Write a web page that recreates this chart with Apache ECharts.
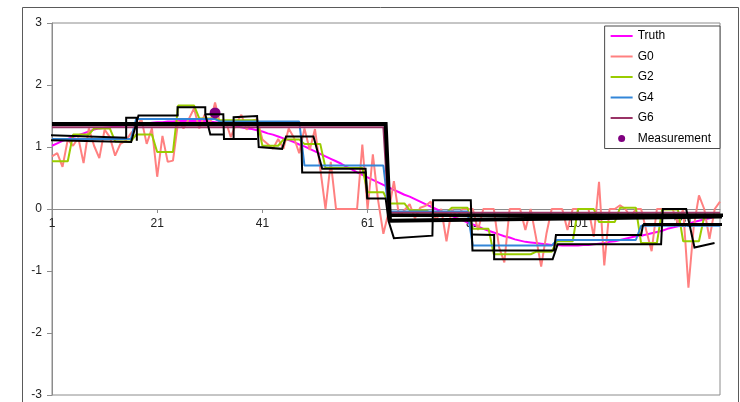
<!DOCTYPE html>
<html>
<head>
<meta charset="utf-8">
<script src="https://cdn.jsdelivr.net/npm/echarts@6/dist/echarts.min.js"></script>
<style>
  html, body { margin: 0; padding: 0; background: #ffffff; }
  #chart { width: 740px; height: 402px; }
</style>
</head>
<body>
<div id="chart"></div>
<script>
// Sample index labels (1..128)
const categories = [
  '1','2','3','4','5','6','7','8','9','10','11','12','13','14','15','16',
  '17','18','19','20','21','22','23','24','25','26','27','28','29','30','31','32',
  '33','34','35','36','37','38','39','40','41','42','43','44','45','46','47','48',
  '49','50','51','52','53','54','55','56','57','58','59','60','61','62','63','64',
  '65','66','67','68','69','70','71','72','73','74','75','76','77','78','79','80',
  '81','82','83','84','85','86','87','88','89','90','91','92','93','94','95','96',
  '97','98','99','100','101','102','103','104','105','106','107','108','109','110','111','112',
  '113','114','115','116','117','118','119','120','121','122','123','124','125','126','127','128'
];

const yTicks = [-3, -2, -1, 0, 1, 2, 3];

const truth = [
  1.02,1.06,1.10,1.13,1.16,1.19,1.22,1.25,1.28,1.30,1.31,1.32,1.33,1.34,1.35,1.36,
  1.37,1.37,1.38,1.39,1.40,1.40,1.41,1.41,1.42,1.42,1.42,1.42,1.42,1.42,1.41,1.40,
  1.39,1.37,1.35,1.33,1.32,1.30,1.29,1.27,1.25,1.22,1.20,1.17,1.14,1.11,1.08,1.04,
  1.01,0.97,0.93,0.89,0.85,0.81,0.77,0.73,0.68,0.64,0.59,0.55,0.51,0.47,0.43,0.39,
  0.35,0.31,0.27,0.23,0.20,0.16,0.12,0.08,0.04,0.00,-0.04,-0.08,-0.11,-0.15,-0.18,-0.22,
  -0.25,-0.28,-0.32,-0.35,-0.38,-0.41,-0.44,-0.46,-0.49,-0.51,-0.53,-0.54,-0.55,-0.56,-0.57,-0.58,
  -0.58,-0.59,-0.59,-0.59,-0.59,-0.58,-0.58,-0.57,-0.56,-0.55,-0.53,-0.52,-0.50,-0.48,-0.46,-0.44,
  -0.43,-0.41,-0.39,-0.37,-0.35,-0.32,-0.30,-0.28,-0.26,-0.24,-0.21,-0.19,-0.17,-0.15,-0.13,-0.11
];

const g0 = [
  0.85,0.90,0.68,1.12,1.02,1.15,0.74,1.30,1.02,0.82,1.28,1.16,0.86,1.05,1.10,1.22,
  1.32,1.45,1.05,1.30,0.52,1.18,0.76,0.78,1.42,1.30,1.45,1.62,1.30,1.52,1.36,1.72,
  1.36,1.42,1.16,1.38,1.52,1.28,1.42,1.45,1.12,1.05,0.97,1.13,0.97,1.30,1.15,0.90,
  1.30,0.95,1.29,0.65,0.00,0.76,0.00,0.00,0.00,0.00,0.00,1.04,0.00,0.88,0.14,-0.40,
  -0.05,0.45,-0.12,-0.02,0.08,-0.15,0.02,0.05,0.12,-0.19,0.00,-0.52,0.00,-0.13,0.00,0.00,
  0.00,-0.34,0.00,0.00,0.00,-0.62,-0.86,0.00,0.00,0.00,-0.34,0.00,-0.45,-0.93,-0.40,0.00,
  0.00,0.00,-0.34,0.00,0.00,0.00,0.00,-0.45,0.44,-0.91,0.00,0.00,0.06,0.00,-0.13,0.00,
  0.00,-0.35,-0.68,0.00,0.00,0.00,0.00,-0.24,0.00,-1.27,-0.29,0.22,0.00,-0.48,0.00,0.12
];

const g2 = [
  0.77,0.77,0.77,0.77,1.20,1.20,1.20,1.20,1.30,1.30,1.30,1.30,1.09,1.09,1.09,1.09,
  1.20,1.20,1.20,1.20,0.92,0.92,0.92,0.92,1.67,1.67,1.67,1.67,1.46,1.46,1.46,1.46,
  1.43,1.43,1.43,1.43,1.43,1.43,1.43,1.43,1.02,1.02,1.02,1.02,1.12,1.12,1.12,1.12,
  1.05,1.05,1.05,1.05,0.66,0.66,0.66,0.66,0.66,0.66,0.66,0.66,0.27,0.27,0.27,0.27,
  0.09,0.09,0.09,0.09,-0.02,-0.02,-0.02,-0.02,-0.06,-0.06,-0.06,-0.06,0.02,0.02,0.02,0.02,
  -0.32,-0.32,-0.32,-0.32,-0.73,-0.73,-0.73,-0.73,-0.73,-0.73,-0.73,-0.73,-0.69,-0.69,-0.69,-0.69,
  -0.52,-0.52,-0.52,-0.52,0.00,0.00,0.00,0.00,-0.21,-0.21,-0.21,-0.21,0.02,0.02,0.02,0.02,
  -0.55,-0.55,-0.55,-0.55,-0.01,-0.01,-0.01,-0.01,-0.52,-0.52,-0.52,-0.52,-0.12,-0.12,-0.12,-0.12
];

const g4 = [
  1.13,1.13,1.13,1.13,1.13,1.13,1.13,1.13,1.13,1.13,1.13,1.13,1.13,1.13,1.13,1.13,
  1.45,1.45,1.45,1.45,1.45,1.45,1.45,1.45,1.45,1.45,1.45,1.45,1.45,1.45,1.45,1.45,
  1.41,1.41,1.41,1.41,1.41,1.41,1.41,1.41,1.41,1.41,1.41,1.41,1.41,1.41,1.41,1.41,
  0.70,0.70,0.70,0.70,0.70,0.70,0.70,0.70,0.70,0.70,0.70,0.70,0.70,0.70,0.70,0.70,
  -0.04,-0.04,-0.04,-0.04,-0.04,-0.04,-0.04,-0.04,-0.04,-0.04,-0.04,-0.04,-0.04,-0.04,-0.04,-0.04,
  -0.59,-0.59,-0.59,-0.59,-0.59,-0.59,-0.59,-0.59,-0.59,-0.59,-0.59,-0.59,-0.59,-0.59,-0.59,-0.59,
  -0.50,-0.50,-0.50,-0.50,-0.50,-0.50,-0.50,-0.50,-0.50,-0.50,-0.50,-0.50,-0.50,-0.50,-0.50,-0.50,
  -0.27,-0.27,-0.27,-0.27,-0.27,-0.27,-0.27,-0.27,-0.27,-0.27,-0.27,-0.27,-0.27,-0.27,-0.27,-0.27
];

const g6 = [
  1.32,1.32,1.32,1.32,1.32,1.32,1.32,1.32,1.32,1.32,1.32,1.32,1.32,1.32,1.32,1.32,
  1.32,1.32,1.32,1.32,1.32,1.32,1.32,1.32,1.32,1.32,1.32,1.32,1.32,1.32,1.32,1.32,
  1.32,1.32,1.32,1.32,1.32,1.32,1.32,1.32,1.32,1.32,1.32,1.32,1.32,1.32,1.32,1.32,
  1.32,1.32,1.32,1.32,1.32,1.32,1.32,1.32,1.32,1.32,1.32,1.32,1.32,1.32,1.32,1.32,
  -0.06,-0.06,-0.06,-0.06,-0.06,-0.06,-0.06,-0.06,-0.06,-0.06,-0.06,-0.06,-0.06,-0.06,-0.06,-0.06,
  -0.06,-0.06,-0.06,-0.06,-0.06,-0.06,-0.06,-0.06,-0.06,-0.06,-0.06,-0.06,-0.06,-0.06,-0.06,-0.06,
  -0.06,-0.06,-0.06,-0.06,-0.06,-0.06,-0.06,-0.06,-0.06,-0.06,-0.06,-0.06,-0.06,-0.06,-0.06,-0.06,
  -0.06,-0.06,-0.06,-0.06,-0.06,-0.06,-0.06,-0.06,-0.06,-0.06,-0.06,-0.06,-0.06,-0.06,-0.06,-0.06
];

// Single measurement: [sample index, value]
const measurement = [[32, 1.55]];

// Hand-drawn interval outlines, as [sample position, value] vertices
const outlineLeftUpper = [[0.0, 1.19], [15.1, 1.15], [15.1, 1.47], [17.13, 1.47], [17.13, 1.10]];
const outlineLeftLower = [[0.0, 1.11], [16.05, 1.08], [17.44, 1.51], [25.06, 1.51]];
const outlinePeakBox = [[24.87, 1.51], [24.87, 1.64], [30.14, 1.64], [30.14, 1.53], [33.57, 1.53], [33.7, 1.13], [40.0, 1.13]];
const outlinePeakStep = [[30.14, 1.53], [31.1, 1.20], [33.6, 1.20]];
const outlineDescent = [[35.53, 1.13], [35.53, 1.48], [39.99, 1.50], [40.3, 1.00], [44.75, 0.97], [45.5, 1.17],
  [50.71, 1.17], [52.37, 0.65], [60.62, 0.65], [60.94, 0.17]];
const outlineLower = [[48.4, 1.17], [48.56, 0.59], [60.62, 0.59], [60.94, 0.17], [64.43, 0.17], [65.0, -0.20],
  [66.0, -0.47], [73.32, -0.43], [73.45, 0.14], [80.62, 0.14], [80.94, -0.67], [96.43, -0.67],
  [96.81, -0.42], [113.0, -0.42], [113.38, -0.25]];
const outlineRight = [[80.7, -0.41], [85.06, -0.42], [85.06, -0.81], [96.18, -0.81], [97.13, -0.57],
  [116.8, -0.57], [117.13, 0.00], [121.57, 0.00], [123.15, -0.62], [126.96, -0.55]];
const boundMain = [[1.0, 1.37], [64.43, 1.37], [65.25, -0.19], [128.6, -0.12]];
const boundSecond = [[65.25, -0.10], [128.6, -0.10]];
const boundTail = [[113.38, -0.25], [128.6, -0.25]];

const FONT = "'Liberation Sans', Arial, sans-serif";

// Plot box in the 740x402 canvas
const GRID = { left: 52, right: 20, top: 23, bottom: 7 };
const plotHeight = 402 - GRID.top - GRID.bottom;
const yMin = yTicks[0];
const yMax = yTicks[yTicks.length - 1];
// The category axis sits on the zero line
const zeroOffset = -plotHeight * (0 - yMin) / (yMax - yMin);

function seriesLine(name, data, color, width, z) {
  return {
    name: name, type: 'line', data: data, symbol: 'none', showSymbol: false,
    lineStyle: { color: color, width: width }, itemStyle: { color: color },
    z: z, animation: false
  };
}

function outline(data, width) {
  return {
    type: 'line', xAxisIndex: 1, data: data, symbol: 'none', showSymbol: false,
    clip: false, silent: true, z: 6, animation: false,
    lineStyle: { color: '#000000', width: width, join: 'miter' }
  };
}

function legendLine(name) {
  return { name: name, itemStyle: { opacity: 0 } };
}

const chart = echarts.init(document.getElementById('chart'), null, { renderer: 'canvas' });

chart.setOption({
  animation: false,
  backgroundColor: '#ffffff',
  textStyle: { fontFamily: FONT },
  graphic: [{
    type: 'rect', silent: true, z: -10,
    shape: { x: 22.5, y: 7.5, width: 716, height: 420 },
    style: { fill: 'none', stroke: '#5a5a5a', lineWidth: 1 }
  }],
  grid: {
    left: GRID.left, right: GRID.right, top: GRID.top, bottom: GRID.bottom,
    containLabel: false, outerBoundsMode: 'none',
    show: true, borderColor: '#8c8c8c', borderWidth: 1, backgroundColor: 'transparent'
  },
  legend: {
    data: [legendLine('Truth'), legendLine('G0'), legendLine('G2'), legendLine('G4'), legendLine('G6'),
      { name: 'Measurement', itemStyle: { opacity: 1 } }],
    orient: 'vertical', right: 20, top: 26,
    padding: [3, 9, 3, 5],
    itemWidth: 22, itemHeight: 7, itemGap: 6.5,
    backgroundColor: '#ffffff', borderColor: '#4a4a4a', borderWidth: 1, borderRadius: 0,
    textStyle: { fontFamily: FONT, fontSize: 12, color: '#000000', lineHeight: 14 },
    selectedMode: false
  },
  xAxis: [{
    type: 'category', data: categories, boundaryGap: false,
    position: 'bottom', offset: zeroOffset,
    axisLine: { onZero: false, lineStyle: { color: '#8c8c8c', width: 1 } },
    axisTick: { show: true, interval: 19, length: 4, lineStyle: { color: '#8c8c8c' } },
    axisLabel: { interval: 19, margin: 9, fontSize: 12, color: '#222222', fontFamily: FONT },
    splitLine: { show: false }
  }, {
    type: 'value', min: 1, max: 128, show: false
  }],
  yAxis: {
    type: 'value', min: yMin, max: yMax, interval: 1,
    axisLine: { show: true, lineStyle: { color: '#8c8c8c', width: 1 } },
    axisTick: { show: true, inside: false, length: 5, lineStyle: { color: '#8c8c8c' } },
    axisLabel: { margin: 10, fontSize: 12, color: '#222222', fontFamily: FONT },
    splitLine: { show: false }
  },
  series: [
    seriesLine('Truth', truth, '#ff00ff', 2, 2),
    seriesLine('G0', g0, '#ff8080', 2, 2),
    seriesLine('G2', g2, '#99cc00', 2, 2),
    seriesLine('G4', g4, '#3386d8', 2, 2),
    seriesLine('G6', g6, '#993366', 2, 2),
    {
      name: 'Measurement', type: 'scatter', xAxisIndex: 1, data: measurement,
      symbol: 'circle', symbolSize: 11, itemStyle: { color: '#800080', opacity: 1 }, z: 3, animation: false
    },
    outline(outlineLeftUpper, 2),
    outline(outlineLeftLower, 2),
    outline(outlinePeakBox, 2),
    outline(outlinePeakStep, 2),
    outline(outlineDescent, 2),
    outline(outlineLower, 2),
    outline(outlineRight, 2),
    outline(boundMain, 4),
    outline(boundSecond, 3.5),
    outline(boundTail, 3)
  ]
});
</script>
</body>
</html>
